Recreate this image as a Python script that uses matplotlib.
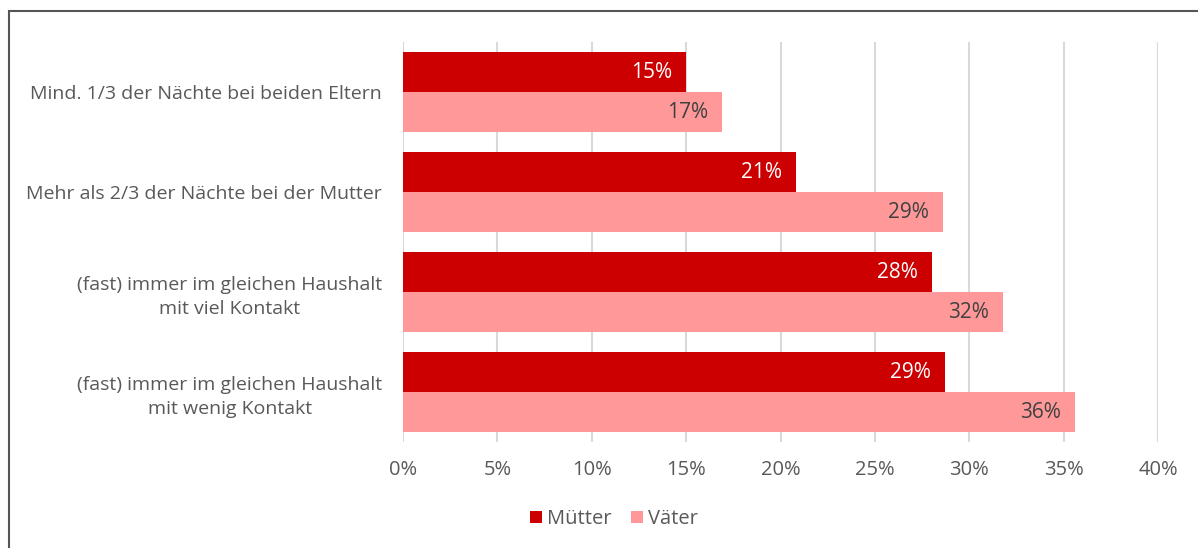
import matplotlib.pyplot as plt
from matplotlib.patches import Rectangle
import numpy as np

# Data
categories = [
    "Mind. 1/3 der Nächte bei beiden Eltern",
    "Mehr als 2/3 der Nächte bei der Mutter",
    "(fast) immer im gleichen Haushalt\nmit viel Kontakt",
    "(fast) immer im gleichen Haushalt\nmit wenig Kontakt",
]
muetter = [15.0, 20.8, 28.0, 28.7]
vaeter = [16.9, 28.6, 31.8, 35.6]
xticks = [0, 5, 10, 15, 20, 25, 30, 35, 40]

red = '#cc0000'
pink = '#ff9999'
grey = '#595959'

plt.rcParams['font.family'] = ['Open Sans', 'DejaVu Sans']

fig = plt.figure(figsize=(11.98, 5.48), dpi=100)
ax = fig.add_axes([403/1198, 1 - 442/548, 755/1198, 400/548])

y = np.arange(len(categories))
h = 0.4
b1 = ax.barh(y - h/2, muetter, height=h, color=red, label='Mütter', zorder=2)
b2 = ax.barh(y + h/2, vaeter, height=h, color=pink, label='Väter', zorder=2)

# value labels inside the bar end
for bars, vals, col in [(b1, muetter, 'white'), (b2, vaeter, '#404040')]:
    for bar, v in zip(bars, vals):
        ax.annotate(f'{v:.0f}%', (v, bar.get_y() + bar.get_height()/2),
                    xytext=(-14, 0), textcoords='offset pixels',
                    ha='right', va='center', fontsize=15, color=col, zorder=3)

ax.set_xlim(0, 40)
ax.set_ylim(3.5, -0.5)
ax.set_xticks(xticks)
ax.set_xticklabels([f'{t}%' for t in xticks], fontsize=14.5, color=grey)
ax.set_yticks(y)
ax.set_yticklabels(categories, fontsize=14, color=grey, multialignment='center',
                   linespacing=1.45)
ax.tick_params(axis='both', length=0)
ax.tick_params(axis='x', pad=13)
ax.tick_params(axis='y', pad=15)

ax.grid(axis='x', color='#d9d9d9', linewidth=1.5, zorder=0)
for s in ax.spines.values():
    s.set_visible(False)

leg = fig.legend(handles=[b1, b2], loc='center', bbox_to_anchor=(614/1198, 1 - 519/548),
                 ncol=2, frameon=False, fontsize=14.5, handlelength=0.6, handleheight=0.6,
                 handletextpad=0.25, columnspacing=1.0, labelcolor=grey)

# outer frame of the chart area
fig.patches.append(Rectangle((9/1198, -0.1), 1.2, 1.1 - 11/548, transform=fig.transFigure,
                             fill=False, edgecolor='#555555', linewidth=1.5))

plt.savefig('out.png', dpi=100)
